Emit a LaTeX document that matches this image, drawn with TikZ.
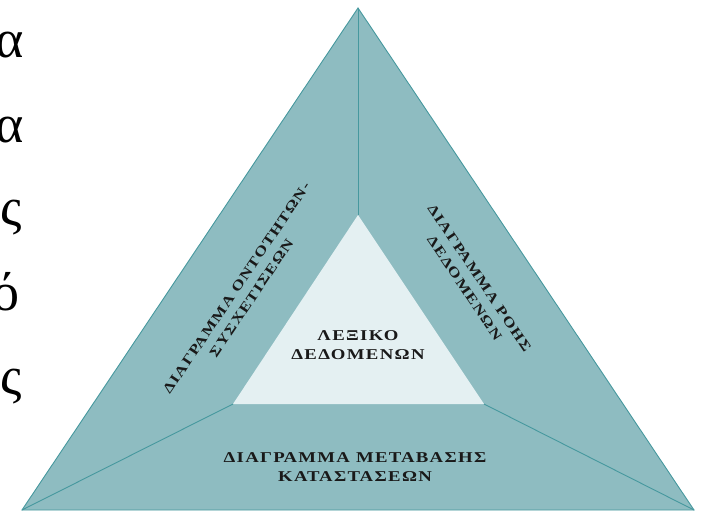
\documentclass[tikz,border=0pt]{standalone}
\usepackage{fontspec}
\setmainfont{Liberation Serif}
\newfontfamily\lblfont[LetterSpace=9,FakeStretch=1.25]{Liberation Serif Bold}
\definecolor{panelfill}{RGB}{142,188,193}
\definecolor{panelline}{RGB}{70,152,158}
\definecolor{corefill}{RGB}{228,240,242}
\tikzset{
  edge/.style={draw=panelline, line width=0.9pt, line join=miter},
  lbl/.style={font=\lblfont\fontsize{15}{19}\selectfont, align=center, text=black!90, inner sep=0pt},
  slanted lbl/.style={lbl, font=\lblfont\fontsize{13.8}{18}\selectfont},
  side/.style={font=\fontsize{54}{54}\selectfont, anchor=base east, inner sep=0pt}
}
\begin{document}
\begin{tikzpicture}[x=1pt,y=-1pt]
\useasboundingbox (0,0) rectangle (701,511);
% outer and inner vertices
\coordinate (A) at (358,8);
\coordinate (B) at (22,510);
\coordinate (C) at (694,510);
\coordinate (a) at (358,215);
\coordinate (b) at (233,404);
\coordinate (c) at (484,404);
% panels
\fill[panelfill] (A) -- (B) -- (C) -- cycle;
\fill[corefill] (a) -- (b) -- (c) -- cycle;
\draw[edge] (A) -- (B) -- (C) -- cycle;
\draw[edge] (A) -- (a);
\draw[edge] (B) -- (b);
\draw[edge] (C) -- (c);
% labels
\node[slanted lbl, rotate=56] (erd) at (244,293) {ΔΙΑΓΡΑΜΜΑ ΟΝΤΟΤΗΤΩΝ-\\ΣΥΣΧΕΤΙΣΕΩΝ};
\node[slanted lbl, rotate=-56] (dfd) at (472,283) {ΔΙΑΓΡΑΜΜΑ ΡΟΗΣ\\ΔΕΔΟΜΕΝΩΝ};
\node[lbl] (std) at (355,467) {ΔΙΑΓΡΑΜΜΑ ΜΕΤΑΒΑΣΗΣ\\ΚΑΤΑΣΤΑΣΕΩΝ};
\node[lbl] (dict) at (358,345) {ΛΕΞΙΚΟ\\ΔΕΔΟΜΕΝΩΝ};
% letters at the page edge
\node[side] (l1) at (24,57) {α};
\node[side] (l2) at (24,142) {α};
\node[side] (l3) at (22,225) {ς};
\node[side] (l4) at (20,310) {ό};
\node[side] (l5) at (22,394) {ς};
\end{tikzpicture}
\end{document}
